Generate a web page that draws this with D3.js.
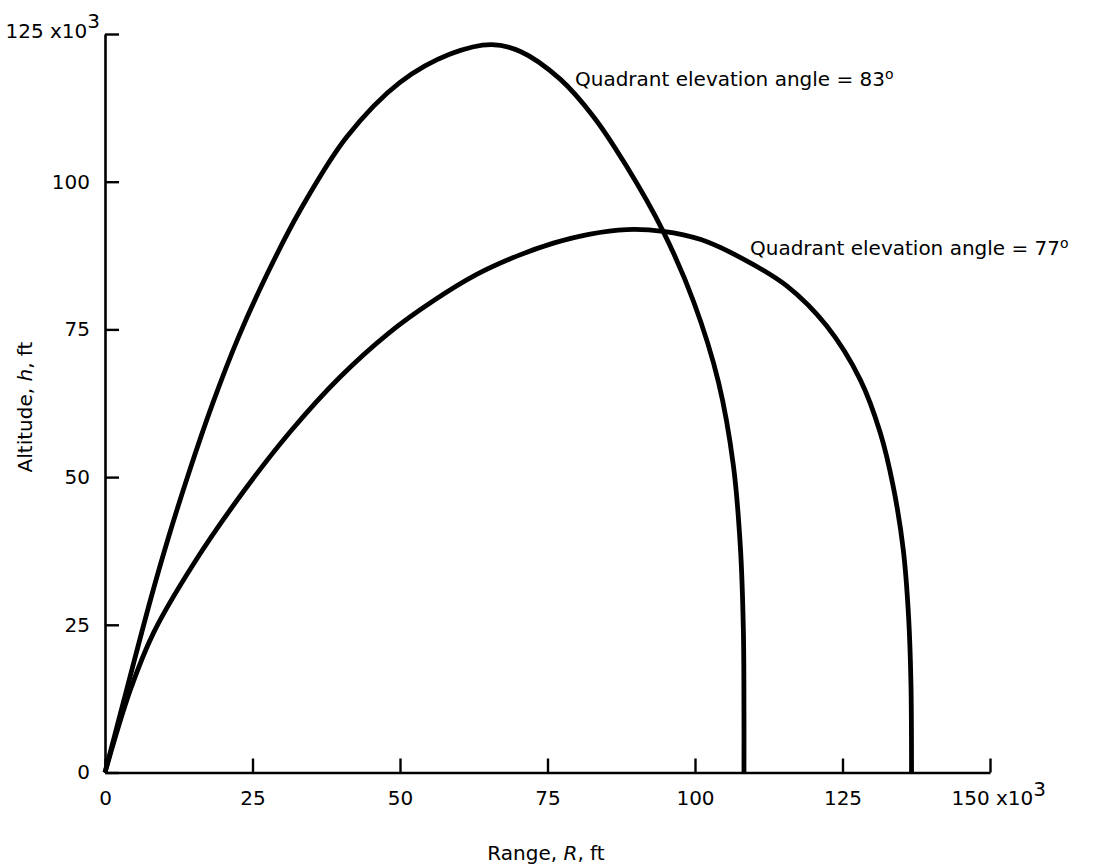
<!DOCTYPE html>
<html>
<head>
<meta charset="utf-8">
<script src="https://cdn.jsdelivr.net/npm/d3@7"></script>
<style>
  html, body { margin: 0; padding: 0; background: #fff; }
  svg { display: block; }
  text { font-family: "DejaVu Sans", "Noto Sans", sans-serif; fill: #000; }
</style>
</head>
<body>
<svg id="chart" width="1095" height="868"></svg>
<script>
// ---- data (values in thousands of ft) ----
const xTicks = [0, 25, 50, 75, 100, 125, 150];
const yTicks = [0, 25, 50, 75, 100, 125];

const range83 = [0, 3.8, 7.7, 10.7, 14.3, 18.3, 22.5, 27.4, 33.1, 41.0, 50.0, 58.5, 65.5, 70.5, 77.1, 82.8, 88.4, 94.6, 99.8, 104.0, 106.5, 107.7, 108.2, 108.3, 108.3];
const alt83   = [0, 14.5, 29.2, 39.6, 51.0, 62.6, 73.4, 84.2, 95.2, 107.6, 116.8, 121.6, 123.2, 122.0, 117.4, 111.0, 102.6, 91.6, 79.6, 66.0, 52.0, 38.0, 24.0, 10.0, 0];

const range77 = [0, 4.3, 8.2, 15.0, 23.5, 31.5, 39.8, 48.0, 55.6, 63.0, 69.8, 76.0, 82.0, 88.4, 94.6, 101.0, 108.2, 115.5, 122.3, 128.0, 131.4, 133.6, 135.3, 136.2, 136.6, 136.7];
const alt77   = [0, 14.0, 23.6, 35.3, 47.6, 57.8, 66.9, 74.3, 79.8, 84.3, 87.4, 89.6, 91.1, 91.9, 91.6, 90.2, 86.9, 82.4, 75.6, 66.5, 57.5, 48.4, 37.7, 26.4, 15.1, 0];

const seriesLabels = ["Quadrant elevation angle = 83", "Quadrant elevation angle = 77"];
const xTitle = ["Range,  ", "R", ",  ft"];
const yTitle = ["Altitude,  ", "h", ",  ft"];

// ---- layout ----
const svg = d3.select("#chart");
const x = d3.scaleLinear().domain([0, 150]).range([105, 990]);
const y = d3.scaleLinear().domain([0, 125]).range([772.5, 34]);

// axes
const xAxis = d3.axisBottom(x).tickValues(xTicks).tickSizeInner(-14).tickSizeOuter(0).tickPadding(12)
  .tickFormat(d3.format("d"));
const yAxis = d3.axisLeft(y).tickValues(yTicks).tickSizeInner(-14).tickSizeOuter(0).tickPadding(15)
  .tickFormat(d3.format("d"));

const gx = svg.append("g").attr("transform", `translate(0,${y(0)})`).call(xAxis);
const gy = svg.append("g").attr("transform", `translate(${x(0)},0)`).call(yAxis);

[gx, gy].forEach(g => {
  g.selectAll(".domain").attr("stroke", "#000").attr("stroke-width", 2.6);
  g.selectAll(".tick line").attr("stroke", "#000").attr("stroke-width", 2.4);
  g.selectAll(".tick text").attr("font-size", 20).attr("fill", "#000")
    .attr("font-family", "'DejaVu Sans', 'Noto Sans', sans-serif");
});
gx.selectAll(".tick text").attr("dy", "1.0em");

// special labels with x10^3
gy.selectAll(".tick").filter(d => d === 125).select("text")
  .attr("x", -5).attr("dy", "0.15em")
  .text(null)
  .call(t => {
    t.append("tspan").text("125 x10");
    t.append("tspan").attr("dy", "-0.5em").text("3");
  });
gx.selectAll(".tick").filter(d => d === 150).select("text")
  .attr("text-anchor", "start").attr("x", -39)
  .text(null)
  .call(t => {
    t.append("tspan").text("150 x10");
    t.append("tspan").attr("dy", "-0.45em").text("3");
  });

// curves
const line = d3.line().x(d => x(d[0])).y(d => y(d[1])).curve(d3.curveCatmullRom.alpha(0.5));
const s83 = range83.map((r, i) => [r, alt83[i]]);
const s77 = range77.map((r, i) => [r, alt77[i]]);
[s83, s77].forEach(s => {
  svg.append("path").datum(s).attr("d", line)
    .attr("fill", "none").attr("stroke", "#000").attr("stroke-width", 4.8)
    .attr("stroke-linejoin", "round").attr("stroke-linecap", "butt");
});

// annotations
function annot(label, px, py) {
  const t = svg.append("text").attr("x", px).attr("y", py).attr("font-size", 20);
  t.append("tspan").text(label);
  t.append("tspan").attr("dy", "-0.5em").attr("font-size", 14).text("o");
}
annot(seriesLabels[0], 575, 86);
annot(seriesLabels[1], 750, 255);

// axis titles
const xt = svg.append("text").attr("x", 546).attr("y", 860).attr("text-anchor", "middle").attr("font-size", 20);
xt.append("tspan").text(xTitle[0]);
xt.append("tspan").attr("font-style", "italic").text(xTitle[1]);
xt.append("tspan").text(xTitle[2]);

const yt = svg.append("text").attr("transform", `translate(32,407) rotate(-90)`).attr("text-anchor", "middle").attr("font-size", 20);
yt.append("tspan").text(yTitle[0]);
yt.append("tspan").attr("font-style", "italic").text(yTitle[1]);
yt.append("tspan").text(yTitle[2]);
</script>
</body>
</html>
